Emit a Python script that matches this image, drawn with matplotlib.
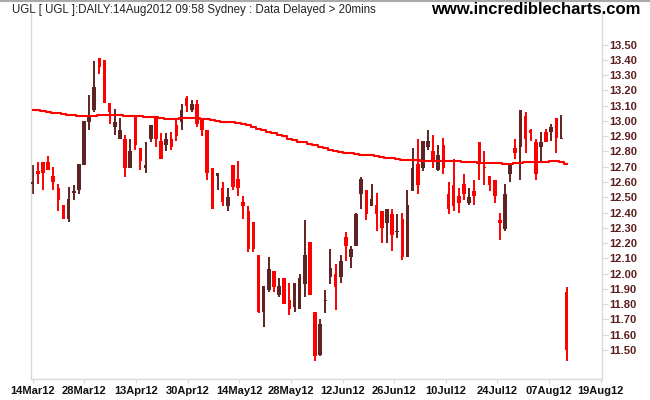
import numpy as np
import matplotlib
matplotlib.use("Agg")
import matplotlib.pyplot as plt
from matplotlib.lines import Line2D

# ---- data ----
opens = [12.59, 12.67, 12.73, 12.73, 12.64, 12.56, 12.45, 12.36, 12.53, 12.55,
         12.71, 12.99, 13.07, 13.41, 13.40, 13.12, 12.96, 12.88, 12.88, 12.69,
         13.03, 12.82, 12.69, 12.88, 13.03, 12.87, 12.84, 12.88, 12.97, 12.99,
         13.15, 13.07, 13.11, 13.01, 12.94, 12.69, 12.64, 12.56, 12.44, 12.71,
         12.62, 12.47, 12.41, 12.34, 12.12, 11.75, 11.89, 12.02, 11.86, 11.97,
         11.83, 11.78, 11.77, 11.93, 12.21, 11.75, 11.47, 11.82, 11.98, 12.00,
         11.98, 12.24, 12.11, 12.18, 12.52, 12.55, 12.44, 12.45, 12.41, 12.33,
         12.39, 12.27, 12.36, 12.11, 12.54, 12.72, 12.69, 12.83, 12.80, 12.68,
         12.84, 12.52, 12.58, 12.51, 12.59, 12.46, 12.54, 12.86, 12.70, 12.64,
         12.61, 12.35, 12.29, 12.65, 12.82, 12.83, 13.03, 12.94, 12.86, 12.83,
         12.93, 12.93, 13.02, 12.88, 11.88]
highs = [12.71, 12.73, 12.73, 12.77, 12.70, 12.59, 12.45, 12.57, 12.58, 12.72,
         13.00, 13.17, 13.39, 13.41, 13.40, 13.12, 13.08, 13.02, 12.91, 12.88,
         13.03, 12.82, 12.86, 12.97, 13.03, 12.92, 12.92, 12.93, 13.01, 13.11,
         13.16, 13.14, 13.14, 13.01, 12.94, 12.69, 12.66, 12.60, 12.56, 12.71,
         12.74, 12.51, 12.44, 12.34, 12.12, 11.92, 12.11, 12.02, 11.97, 11.97,
         11.94, 11.94, 12.00, 12.35, 12.21, 11.75, 11.70, 11.89, 12.16, 12.06,
         12.12, 12.27, 12.18, 12.40, 12.63, 12.55, 12.59, 12.53, 12.41, 12.42,
         12.42, 12.39, 12.40, 12.55, 12.82, 12.88, 12.87, 12.94, 12.91, 12.84,
         12.89, 12.60, 12.75, 12.56, 12.65, 12.56, 12.61, 12.86, 12.80, 12.64,
         12.61, 12.40, 12.59, 12.72, 12.88, 13.07, 13.06, 12.95, 12.88, 12.93,
         12.95, 12.98, 13.02, 13.04, 11.91]
lows = [12.52, 12.59, 12.55, 12.68, 12.55, 12.41, 12.36, 12.34, 12.48, 12.52,
        12.71, 12.94, 13.06, 13.31, 13.12, 12.98, 12.91, 12.88, 12.63, 12.69,
        12.81, 12.68, 12.66, 12.86, 12.83, 12.75, 12.80, 12.81, 12.87, 12.94,
        13.06, 13.06, 12.96, 12.90, 12.61, 12.42, 12.55, 12.44, 12.41, 12.55,
        12.51, 12.36, 12.14, 12.14, 11.74, 11.65, 11.88, 11.88, 11.85, 11.80,
        11.73, 11.75, 11.77, 11.85, 11.86, 11.43, 11.46, 11.74, 11.93, 11.76,
        11.94, 12.08, 12.04, 12.18, 12.42, 12.35, 12.44, 12.28, 12.20, 12.20,
        12.15, 12.23, 12.09, 12.11, 12.54, 12.52, 12.67, 12.81, 12.69, 12.67,
        12.65, 12.39, 12.41, 12.40, 12.48, 12.45, 12.45, 12.61, 12.58, 12.54,
        12.46, 12.22, 12.28, 12.60, 12.75, 12.61, 12.79, 12.87, 12.61, 12.74,
        12.86, 12.87, 12.79, 12.88, 11.43]
closes = [12.60, 12.65, 12.66, 12.68, 12.60, 12.48, 12.36, 12.49, 12.54, 12.72,
          13.00, 13.03, 13.22, 13.35, 13.12, 13.06, 12.99, 12.94, 12.69, 12.80,
          12.84, 12.74, 12.71, 12.97, 12.88, 12.75, 12.88, 12.83, 12.90, 13.07,
          13.10, 13.11, 12.98, 12.94, 12.66, 12.42, 12.66, 12.47, 12.50, 12.57,
          12.56, 12.44, 12.16, 12.16, 11.75, 11.92, 12.03, 11.91, 11.92, 11.80,
          11.77, 11.94, 11.97, 12.12, 11.86, 11.46, 11.67, 11.83, 12.04, 11.91,
          12.08, 12.18, 12.16, 12.39, 12.62, 12.39, 12.49, 12.39, 12.30, 12.42,
          12.25, 12.28, 12.11, 12.45, 12.69, 12.58, 12.87, 12.87, 12.74, 12.78,
          12.69, 12.42, 12.44, 12.46, 12.52, 12.50, 12.51, 12.72, 12.69, 12.58,
          12.51, 12.33, 12.52, 12.72, 12.79, 13.07, 12.88, 12.92, 12.65, 12.86,
          12.86, 12.96, 12.89, 12.89, 11.50]
moving_avg = [13.07, 13.07, 13.065, 13.06, 13.055, 13.05, 13.045, 13.04, 13.04, 13.035,
              13.035, 13.035, 13.035, 13.04, 13.04, 13.04, 13.04, 13.04, 13.035, 13.035,
              13.03, 13.03, 13.025, 13.025, 13.025, 13.02, 13.015, 13.015, 13.015, 13.02,
              13.02, 13.02, 13.02, 13.015, 13.01, 13.005, 13.0, 12.995, 12.99, 12.99,
              12.985, 12.98, 12.97, 12.96, 12.95, 12.94, 12.93, 12.92, 12.91, 12.90,
              12.88, 12.875, 12.865, 12.86, 12.85, 12.84, 12.83, 12.82, 12.81, 12.80,
              12.795, 12.79, 12.79, 12.785, 12.78, 12.78, 12.775, 12.77, 12.765, 12.76,
              12.755, 12.75, 12.745, 12.745, 12.745, 12.745, 12.74, 12.74, 12.74, 12.74,
              12.74, 12.74, 12.735, 12.735, 12.73, 12.73, 12.73, 12.725, 12.725, 12.725,
              12.725, 12.725, 12.72, 12.72, 12.725, 12.725, 12.73, 12.73, 12.73, 12.73,
              12.73, 12.735, 12.735, 12.73, 12.72]
date_labels = ["14Mar12", "28Mar12", "13Apr12", "30Apr12", "14May12", "28May12",
               "12Jun12", "26Jun12", "10Jul12", "24Jul12", "07Aug12", "19Aug12"]
ytick_values = [11.5, 11.6, 11.7, 11.8, 11.9, 12.0, 12.1, 12.2, 12.3, 12.4, 12.5,
                12.6, 12.7, 12.8, 12.9, 13.0, 13.1, 13.2, 13.3, 13.4, 13.5]

# ---- styling ----
RED = "#ff0000"
BROWN = "#5e2424"
GRID = "#d9d9d9"
FONT = ["Liberation Sans", "DejaVu Sans"]
plt.rcParams["font.family"] = FONT

fig = plt.figure(figsize=(6.5, 4.0), dpi=100)
ax = fig.add_axes([31 / 650, 21 / 400, (602 - 31) / 650, (379 - 14) / 400])

o = np.array(opens); h = np.array(highs); l = np.array(lows); c = np.array(closes)
x = np.arange(len(o))
colors = [BROWN if cc >= oo else RED for oo, cc in zip(o, c)]

ax.vlines(x, l, h, colors=colors, linewidth=1.4, zorder=2)
body_bottom = np.minimum(o, c)
body_height = np.maximum(np.abs(c - o), 0.01)
ax.bar(x, body_height, bottom=body_bottom, width=0.7, color=colors,
       linewidth=0, zorder=3)
ax.plot(x, moving_avg, color=RED, linewidth=1.5, zorder=4,
        drawstyle="steps-mid")

ax.set_xlim(-0.33, 110.9)
ax.set_ylim(11.31, 13.70)

tick_pos = np.arange(len(date_labels)) * 10.06
ax.set_xticks(tick_pos)
ax.set_xticklabels(date_labels, fontsize=8, fontweight="bold", color="#111111")
ax.tick_params(axis="x", length=3, color=GRID, pad=2)

ax.yaxis.tick_right()
ax.set_yticks(ytick_values)
ax.set_yticklabels([f"{v:.2f}" for v in ytick_values], fontsize=8,
                   fontweight="bold", color="#5c1f1f")
ax.tick_params(axis="y", length=4, color=GRID, pad=1)

for side in ("left", "bottom", "right"):
    ax.spines[side].set_color(GRID)
    ax.spines[side].set_linewidth(1.0)
ax.spines["top"].set_visible(False)

fig.text(12 / 650, 1 - 10 / 400,
         "UGL [ UGL ]:DAILY:14Aug2012 09:58 Sydney : Data Delayed > 20mins",
         fontsize=8.3, color="#222222", va="center", ha="left")
fig.text(640 / 650, 1 - 10 / 400, "www.incrediblecharts.com",
         fontsize=12, fontweight="bold", color="#000000", va="center", ha="right")
fig.add_artist(Line2D([0, 1], [0.998, 0.998], transform=fig.transFigure,
                      color="#aaaaaa", linewidth=1.5))

fig.savefig("out.png", dpi=100)
